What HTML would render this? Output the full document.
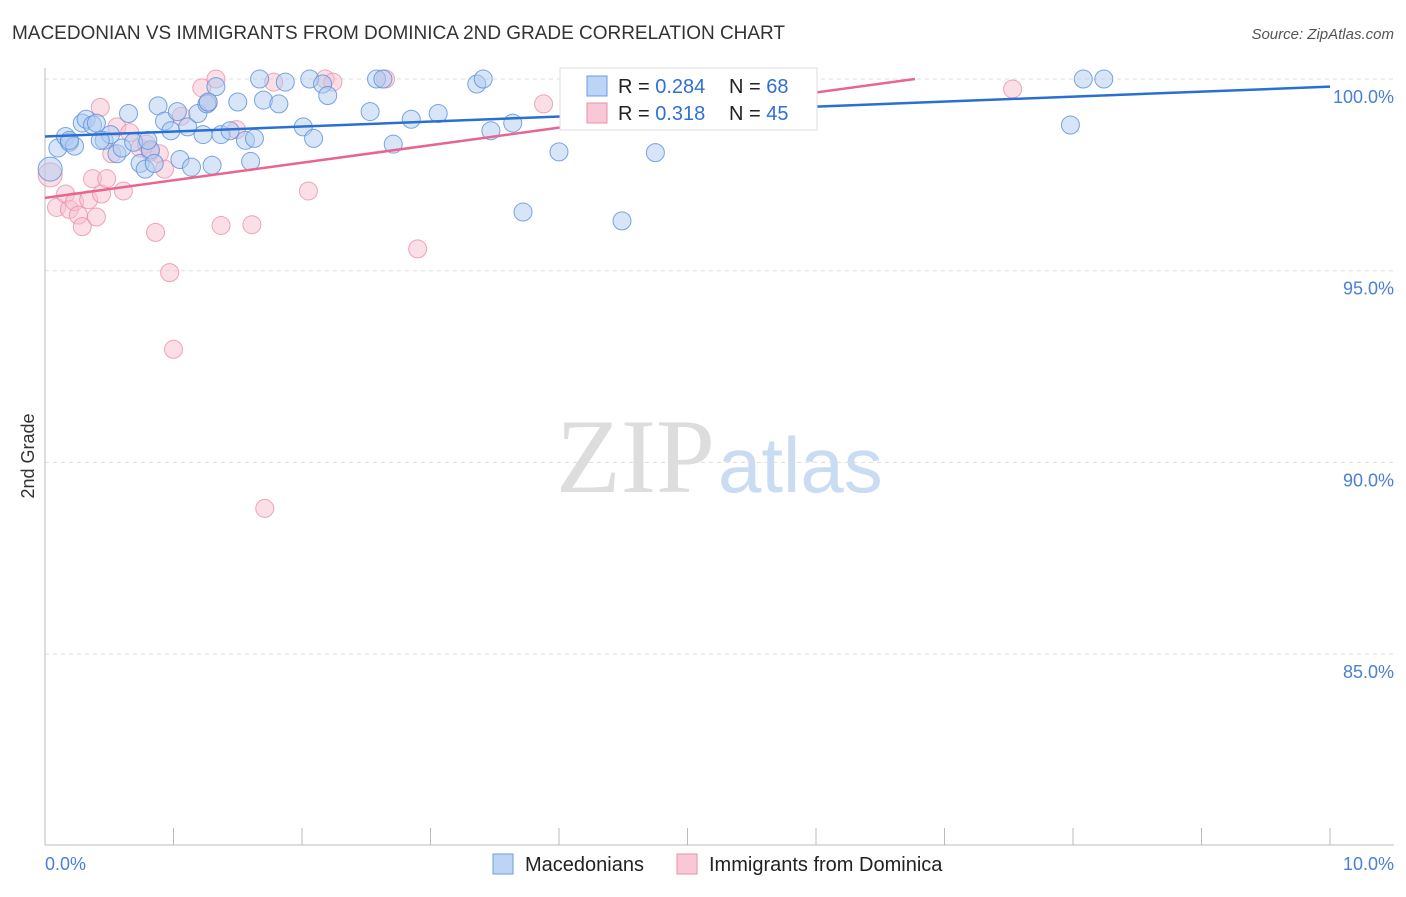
<!DOCTYPE html><html><head><meta charset="utf-8"><style>
body{margin:0;background:#fff;font-family:"Liberation Sans",sans-serif}
text{white-space:pre}
</style></head><body>
<svg width="1406" height="892" xmlns="http://www.w3.org/2000/svg">
<text x="12" y="39" font-size="19" fill="#333" textLength="773">MACEDONIAN VS IMMIGRANTS FROM DOMINICA 2ND GRADE CORRELATION CHART</text>
<text x="1394" y="39" font-size="15" fill="#555" font-style="italic" text-anchor="end">Source: ZipAtlas.com</text>
<text x="715" y="492" font-size="106" fill="#ddd" text-anchor="end" font-family="Liberation Serif">ZIP</text>
<text x="718" y="492" font-size="78" fill="#c9dcf2">atlas</text>
<g id="grid"></g>
<line x1="45" y1="68" x2="45" y2="845" stroke="#bbb"/>
<line x1="45" y1="845" x2="1394" y2="845" stroke="#bbb"/>
<text transform="translate(34,456) rotate(-90)" font-size="18" fill="#333" text-anchor="middle">2nd Grade</text>
<text x="45" y="870" font-size="18" fill="#4a7fd6">0.0%</text>
<text x="1394" y="870" font-size="18" fill="#4a7fd6" text-anchor="end">10.0%</text>
<g id="pts"></g>
<g id="lines"></g>
<g>
<rect x="560" y="68" width="257" height="62" fill="#fff" stroke="#ddd"/>
<rect x="587" y="76" width="20" height="20" fill="#bcd4f5" stroke="#6b9be0"/>
<rect x="587" y="103" width="20" height="20" fill="#f8c8d6" stroke="#eb8fab"/>
<text x="618" y="93" font-size="20" fill="#222">R = <tspan fill="#2f6fd6">0.284</tspan></text>
<text x="729" y="93" font-size="20" fill="#222">N = <tspan fill="#2f6fd6">68</tspan></text>
<text x="618" y="120" font-size="20" fill="#222">R = <tspan fill="#2f6fd6">0.318</tspan></text>
<text x="729" y="120" font-size="20" fill="#222">N = <tspan fill="#2f6fd6">45</tspan></text>
</g>
<g>
<rect x="493" y="854" width="20" height="20" fill="#bcd4f5" stroke="#6b9be0"/>
<text x="525" y="871" font-size="20" fill="#222">Macedonians</text>
<rect x="677" y="854" width="20" height="20" fill="#f8c8d6" stroke="#eb8fab"/>
<text x="709" y="871" font-size="20" fill="#222">Immigrants from Dominica</text>
</g>
</svg>
<script>
const yTicks=[100,95,90,85];
const xTicks=[0,1,2,3,4,5,6,7,8,9,10];
const blueX=[0.04,0.1,0.16,0.19,0.23,0.29,0.32,0.37,0.4,0.46,0.51,0.56,0.6,0.65,0.69,0.74,0.78,0.82,0.85,0.88,0.93,0.98,1.03,1.05,1.11,1.14,1.19,1.23,1.26,1.3,1.33,1.37,1.44,1.5,1.56,1.6,1.63,1.67,1.7,1.82,1.87,2.01,2.06,2.09,2.16,2.2,2.53,2.58,2.63,2.71,2.85,3.06,3.36,3.41,3.47,3.64,3.72,4.0,4.14,4.49,4.75,7.98,8.08,8.24,0.19,0.43,0.8,1.27];
const blueY=[97.65,98.2,98.5,98.35,98.25,98.85,98.95,98.8,98.85,98.4,98.55,98.05,98.2,99.1,98.35,97.8,97.65,98.15,97.8,99.3,98.9,98.65,99.15,97.9,98.75,97.7,99.1,98.55,99.35,97.75,99.8,98.55,98.65,99.4,98.4,97.85,98.45,100,99.45,99.35,99.92,98.75,100,98.45,99.87,99.57,99.15,100,100,98.3,98.95,99.1,99.87,100,98.65,98.85,96.53,98.1,100,96.3,98.08,98.8,100,100,98.4,98.4,98.4,99.4];
const pinkX=[0.04,0.09,0.16,0.19,0.23,0.26,0.29,0.34,0.37,0.4,0.44,0.48,0.52,0.56,0.61,0.66,0.74,0.79,0.82,0.86,0.89,0.93,0.97,1.0,1.06,1.22,1.27,1.33,1.37,1.49,1.61,1.71,1.78,2.05,2.18,2.24,2.65,2.9,3.88,7.53,4.16,0.43];
const pinkY=[97.5,96.65,97.0,96.6,96.8,96.45,96.15,96.85,97.4,96.4,97.0,97.4,98.05,98.75,97.08,98.6,98.2,98.3,98.1,96.0,98.05,97.65,94.95,92.95,99.03,99.77,99.38,100,96.18,98.68,96.2,88.8,99.92,97.08,100,99.92,100,95.57,99.35,99.74,100,99.26];
const blueLine=[[0,98.5],[10,99.8]];
const pinkLine=[[0,96.9],[6.77,100]];
const NS='http://www.w3.org/2000/svg';
const sx=v=>45+v*128.5, sy=v=>79+(100-v)*38.34;
const grid=document.getElementById('grid');
yTicks.forEach(t=>{
 const l=document.createElementNS(NS,'line');
 l.setAttribute('x1',45);l.setAttribute('x2',1394);l.setAttribute('y1',sy(t));l.setAttribute('y2',sy(t));
 l.setAttribute('stroke','#ddd');l.setAttribute('stroke-dasharray','4,4');
 
 
 grid.appendChild(l);
 const tx=document.createElementNS(NS,'text');
 tx.setAttribute('x',1394);tx.setAttribute('y',sy(t)+24);tx.setAttribute('text-anchor','end');
 tx.setAttribute('font-size','18');tx.setAttribute('fill','#4a7fd6');
 tx.textContent=t.toFixed(1)+'%';
 
 
 grid.appendChild(tx);
});
xTicks.forEach(t=>{
 const l=document.createElementNS(NS,'line');
 l.setAttribute('x1',sx(t));l.setAttribute('x2',sx(t));l.setAttribute('y1',828);l.setAttribute('y2',845);
 l.setAttribute('stroke','#bbb');
 
 
 grid.appendChild(l);
});
const pts=document.getElementById('pts');
function dots(X,Y,fill,stroke,name){
 X.forEach((x,i)=>{
  const c=document.createElementNS(NS,'circle');
  c.setAttribute('cx',sx(x));c.setAttribute('cy',sy(Y[i]));c.setAttribute('r',i==0?12:9);
  c.setAttribute('fill',fill);c.setAttribute('fill-opacity','0.5');c.setAttribute('stroke',stroke);c.setAttribute('stroke-opacity','0.8');
  
  
  pts.appendChild(c);
 });
}
dots(pinkX,pinkY,'#f8c0d0','#eb8fab','dominica-point');
dots(blueX,blueY,'#b0cbf0','#5b8fdc','macedonian-point');
const lines=document.getElementById('lines');
function tl(d,col,name){
 const l=document.createElementNS(NS,'line');
 l.setAttribute('x1',sx(d[0][0]));l.setAttribute('y1',sy(d[0][1]));l.setAttribute('x2',sx(d[1][0]));l.setAttribute('y2',sy(d[1][1]));
 l.setAttribute('stroke',col);l.setAttribute('stroke-width','2.5');
 
 
 lines.appendChild(l);
}
tl(pinkLine,'#e8658f','dominica-trend-line');
tl(blueLine,'#2a6fd4','macedonian-trend-line');
</script>
</body></html>
